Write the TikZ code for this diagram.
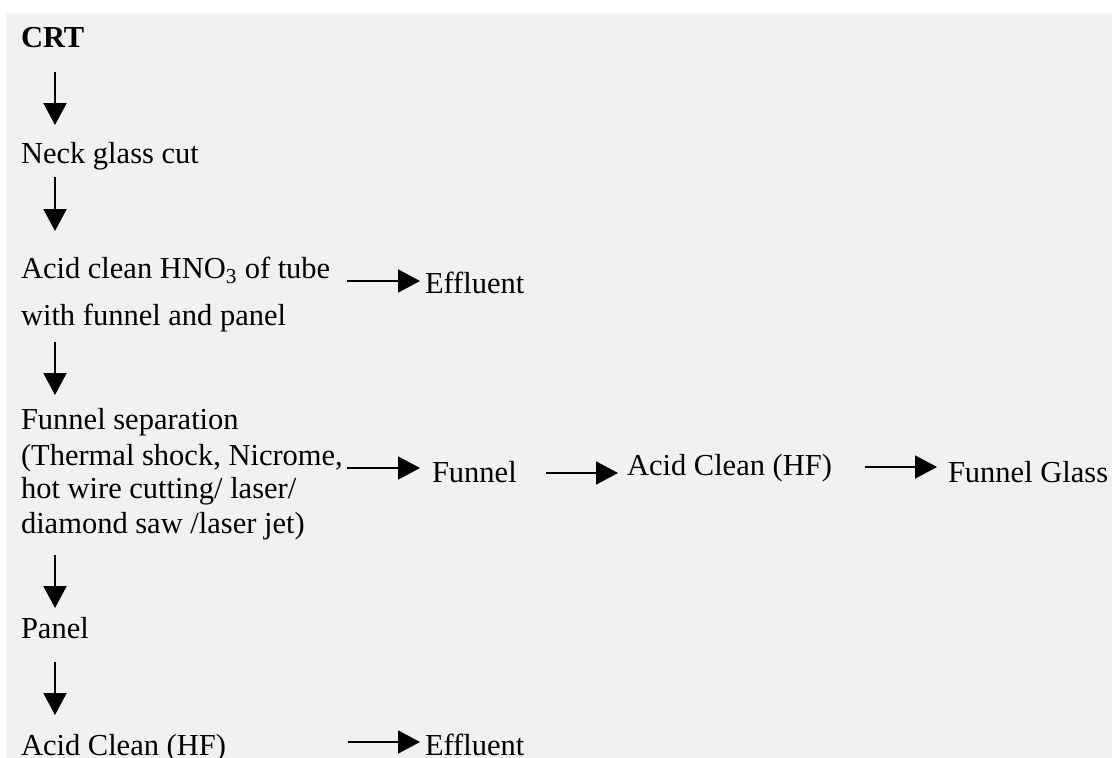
\documentclass[tikz,border=0pt]{standalone}
\usepackage{fontspec}
\setmainfont{Liberation Serif}
\usetikzlibrary{arrows.meta}
\definecolor{panelgray}{RGB}{241,241,241}
\begin{document}
\begin{tikzpicture}[x=1pt,y=-1pt,
  lbl/.style={anchor=base west,inner sep=0pt,outer sep=0pt,
    font=\fontsize{30.5}{35}\selectfont},
  flow/.style={line width=2pt,-{Triangle[width=23pt,length=22pt]}}]
  % page and grey panel
  \useasboundingbox (0,0) rectangle (1112,758);
  \fill[panelgray] (7,13) rectangle (1112,758);

  % main column
  \node[lbl,font=\fontsize{30.5}{35}\selectfont\bfseries] (crt) at (21,47) {CRT};
  \node[lbl] (neck) at (21,163) {Neck glass cut};
  \node[lbl] (acidA) at (21,278) {Acid clean HNO\textsubscript{3} of tube};
  \node[lbl] (acidB) at (21,325) {with funnel and panel};
  \node[lbl] (sepA) at (21,429) {Funnel separation};
  \node[lbl] (sepB) at (21,465) {(Thermal shock, Nicrome,};
  \node[lbl] (sepC) at (21,498) {hot wire cutting/ laser/};
  \node[lbl] (sepD) at (21,533) {diamond saw /laser jet)};
  \node[lbl] (panel) at (21,638) {Panel};
  \node[lbl] (acidHFb) at (21,755) {Acid Clean (HF)};

  % side branches
  \node[lbl] (effA) at (425,293) {Effluent};
  \node[lbl] (funnel) at (432,482) {Funnel};
  \node[lbl] (acidHF) at (627,475) {Acid Clean (HF)};
  \node[lbl] (fglass) at (948,482) {Funnel Glass};
  \node[lbl] (effB) at (425,755) {Effluent};

  % vertical steps
  \draw[flow] ([shift={(34pt,-25pt)}]crt.base west) -- ([shift={(34pt,38pt)}]neck.base west);
  \draw[flow] ([shift={(34pt,-14pt)}]neck.base west) -- ([shift={(34pt,47pt)}]acidA.base west);
  \draw[flow] ([shift={(34pt,-17pt)}]acidB.base west) -- ([shift={(34pt,34pt)}]sepA.base west);
  \draw[flow] ([shift={(34pt,-22pt)}]sepD.base west) -- ([shift={(34pt,30pt)}]panel.base west);
  \draw[flow] ([shift={(34pt,-24pt)}]panel.base west) -- ([shift={(34pt,40pt)}]acidHFb.base west);

  % horizontal branches
  \draw[flow] ([shift={(326pt,-3pt)}]acidA.base west) -- ([shift={(-5pt,12pt)}]effA.base west);
  \draw[flow] ([shift={(326pt,-3pt)}]sepB.base west) -- ([shift={(-12pt,14pt)}]funnel.base west);
  \draw[flow] ([shift={(114pt,9pt)}]funnel.base west) -- ([shift={(-9pt,2pt)}]acidHF.base west);
  \draw[flow] ([shift={(238pt,8pt)}]acidHF.base west) -- ([shift={(-11pt,15pt)}]fglass.base west);
  \draw[flow] ([shift={(327pt,13pt)}]acidHFb.base west) -- ([shift={(-5pt,13pt)}]effB.base west);
\end{tikzpicture}
\end{document}
